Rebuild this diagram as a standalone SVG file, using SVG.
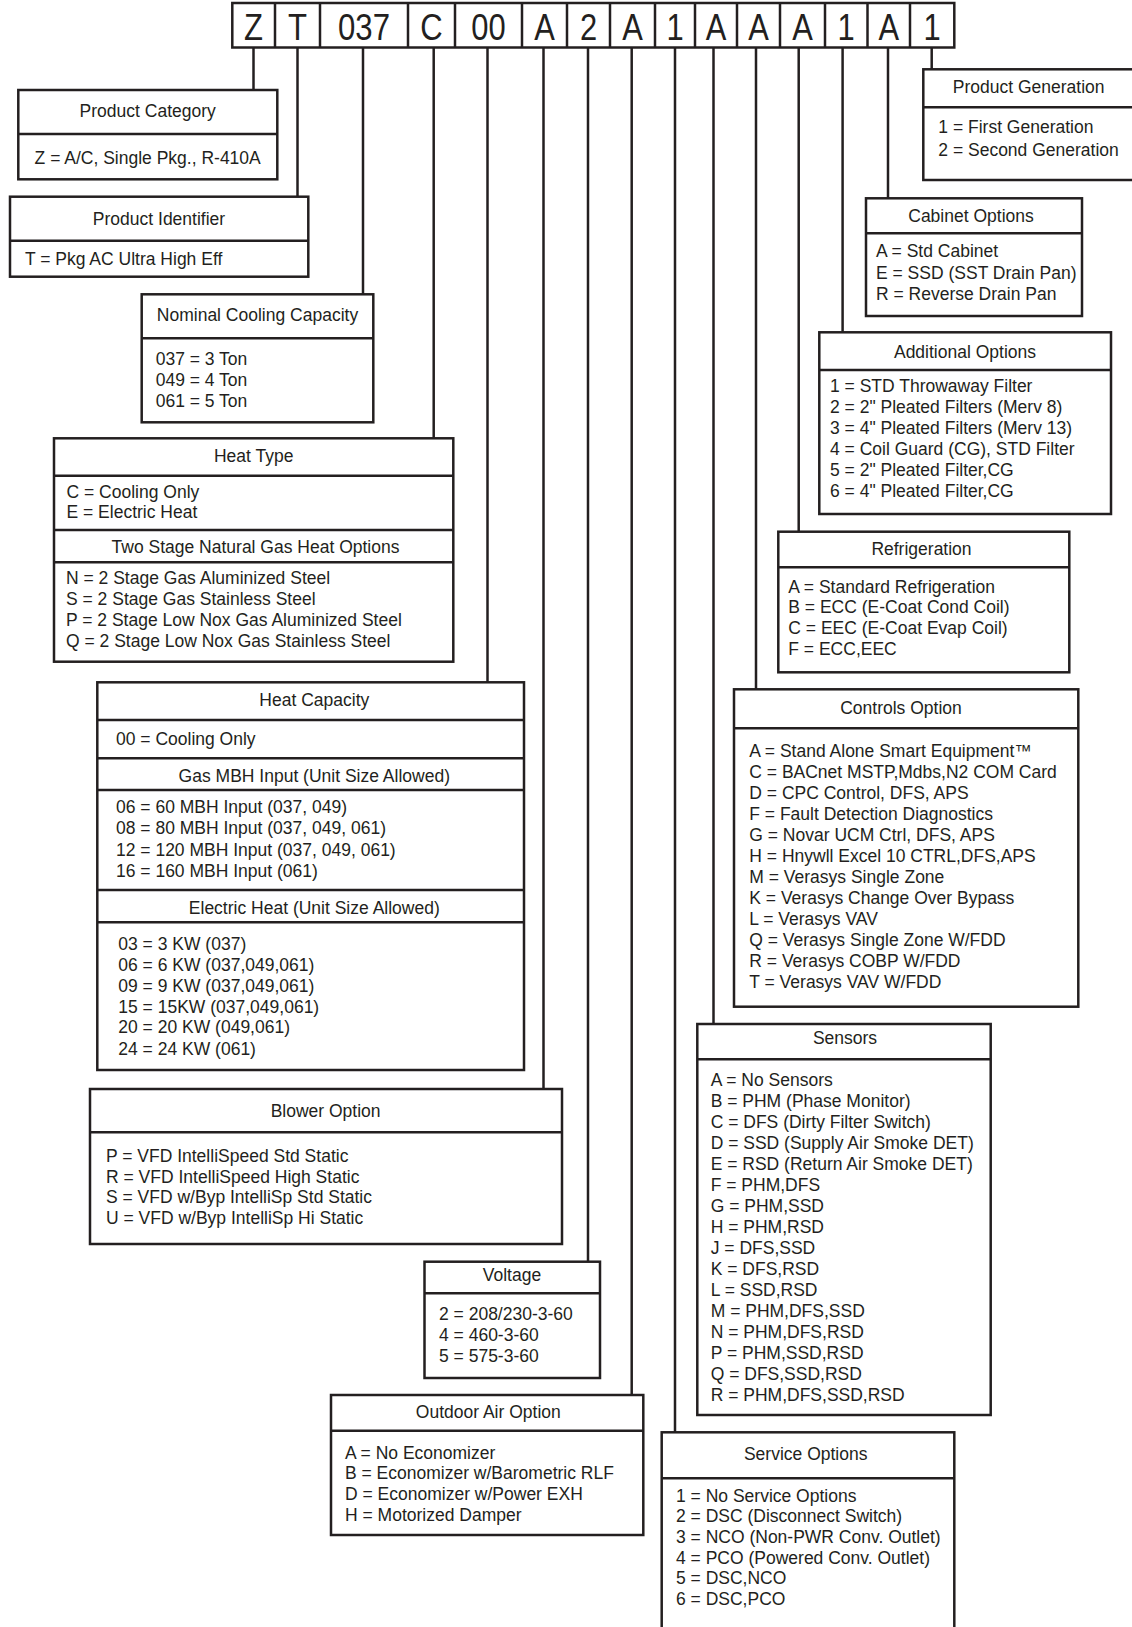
<svg xmlns="http://www.w3.org/2000/svg" width="1132" height="1627" viewBox="0 0 1132 1627">
<style>
.box{fill:#fff;stroke:#231f20;stroke-width:2.5}
.dv{stroke:#231f20;stroke-width:2.5}
.t{font-family:"Liberation Sans",Arial,sans-serif;font-size:17.5px;fill:#231f20}
.m{text-anchor:middle}
.code{font-family:"Liberation Sans",Arial,sans-serif;font-size:36px;fill:#231f20;text-anchor:middle}
.conn line{stroke:#231f20;stroke-width:2.5}
</style>
<rect width="1132" height="1627" fill="#fff"/>

<g id="connectors" class="conn">
<line x1="253.5" y1="47" x2="253.5" y2="90"/>
<line x1="297.5" y1="47" x2="297.5" y2="197"/>
<line x1="363" y1="47" x2="363" y2="294"/>
<line x1="433.7" y1="47" x2="433.7" y2="438"/>
<line x1="487.5" y1="47" x2="487.5" y2="682"/>
<line x1="543.5" y1="47" x2="543.5" y2="1089"/>
<line x1="588" y1="47" x2="588" y2="1262"/>
<line x1="631.7" y1="47" x2="631.7" y2="1395"/>
<line x1="675" y1="47" x2="675" y2="1432"/>
<line x1="713.5" y1="47" x2="713.5" y2="1024"/>
<line x1="756" y1="47" x2="756" y2="689"/>
<line x1="798.7" y1="47" x2="798.7" y2="532"/>
<line x1="842.6" y1="47" x2="842.6" y2="332"/>
<line x1="888" y1="47" x2="888" y2="198"/>
<line x1="931.7" y1="47" x2="931.7" y2="69"/>
</g>

<g id="model-code">
<rect class="box" x="232.3" y="3" width="722" height="44.5"/>
<line class="dv" x1="275" y1="3" x2="275" y2="47.5"/>
<line class="dv" x1="320" y1="3" x2="320" y2="47.5"/>
<line class="dv" x1="408" y1="3" x2="408" y2="47.5"/>
<line class="dv" x1="455" y1="3" x2="455" y2="47.5"/>
<line class="dv" x1="522" y1="3" x2="522" y2="47.5"/>
<line class="dv" x1="567" y1="3" x2="567" y2="47.5"/>
<line class="dv" x1="610" y1="3" x2="610" y2="47.5"/>
<line class="dv" x1="655" y1="3" x2="655" y2="47.5"/>
<line class="dv" x1="695" y1="3" x2="695" y2="47.5"/>
<line class="dv" x1="737" y1="3" x2="737" y2="47.5"/>
<line class="dv" x1="780" y1="3" x2="780" y2="47.5"/>
<line class="dv" x1="825" y1="3" x2="825" y2="47.5"/>
<line class="dv" x1="867.5" y1="3" x2="867.5" y2="47.5"/>
<line class="dv" x1="910" y1="3" x2="910" y2="47.5"/>
<text class="code" x="253.6" y="39.5" textLength="19" lengthAdjust="spacingAndGlyphs">Z</text>
<text class="code" x="297.5" y="39.5" textLength="19" lengthAdjust="spacingAndGlyphs">T</text>
<text class="code" x="364" y="39.5" textLength="52" lengthAdjust="spacingAndGlyphs">037</text>
<text class="code" x="431.5" y="39.5" textLength="22.4" lengthAdjust="spacingAndGlyphs">C</text>
<text class="code" x="488.5" y="39.5" textLength="34.4" lengthAdjust="spacingAndGlyphs">00</text>
<text class="code" x="544.5" y="39.5" textLength="20.6" lengthAdjust="spacingAndGlyphs">A</text>
<text class="code" x="588.5" y="39.5" textLength="17.2" lengthAdjust="spacingAndGlyphs">2</text>
<text class="code" x="632.5" y="39.5" textLength="20.6" lengthAdjust="spacingAndGlyphs">A</text>
<text class="code" x="675" y="39.5" textLength="17.2" lengthAdjust="spacingAndGlyphs">1</text>
<text class="code" x="716" y="39.5" textLength="20.6" lengthAdjust="spacingAndGlyphs">A</text>
<text class="code" x="758.5" y="39.5" textLength="20.6" lengthAdjust="spacingAndGlyphs">A</text>
<text class="code" x="802.5" y="39.5" textLength="20.6" lengthAdjust="spacingAndGlyphs">A</text>
<text class="code" x="846" y="39.5" textLength="17.2" lengthAdjust="spacingAndGlyphs">1</text>
<text class="code" x="888.7" y="39.5" textLength="20.6" lengthAdjust="spacingAndGlyphs">A</text>
<text class="code" x="932" y="39.5" textLength="17.2" lengthAdjust="spacingAndGlyphs">1</text>
</g>

<g id="product-category">
<rect class="box" x="18.3" y="90" width="259" height="89.3"/>
<line class="dv" x1="18.3" y1="134" x2="277.3" y2="134"/>
<text class="t m" x="147.7" y="116.7">Product Category</text>
<text class="t m" x="147.7" y="164">Z = A/C, Single Pkg., R-410A</text>
</g>

<g id="product-identifier">
<rect class="box" x="10" y="196.7" width="298.3" height="80"/>
<line class="dv" x1="10" y1="240.7" x2="308.3" y2="240.7"/>
<text class="t m" x="159" y="225">Product Identifier</text>
<text class="t" x="25" y="265">T = Pkg AC Ultra High Eff</text>
</g>

<g id="nominal-cooling-capacity">
<rect class="box" x="141.7" y="294.3" width="231.6" height="128"/>
<line class="dv" x1="141.7" y1="338.3" x2="373.3" y2="338.3"/>
<text class="t m" x="257.5" y="320.7">Nominal Cooling Capacity</text>
<text class="t" x="155.7" y="365">037 = 3 Ton</text>
<text class="t" x="155.7" y="386">049 = 4 Ton</text>
<text class="t" x="155.7" y="406.7">061 = 5 Ton</text>
</g>

<g id="heat-type">
<rect class="box" x="54" y="438.3" width="399.3" height="223.4"/>
<line class="dv" x1="54" y1="475.7" x2="453.3" y2="475.7"/>
<line class="dv" x1="54" y1="530" x2="453.3" y2="530"/>
<line class="dv" x1="54" y1="562.3" x2="453.3" y2="562.3"/>
<text class="t m" x="253.7" y="461.7">Heat Type</text>
<text class="t" x="66.5" y="497.7">C = Cooling Only</text>
<text class="t" x="66.5" y="517.7">E = Electric Heat</text>
<text class="t m" x="255.5" y="552.7">Two Stage Natural Gas Heat Options</text>
<text class="t" x="66" y="584">N = 2 Stage Gas Aluminized Steel</text>
<text class="t" x="66" y="605">S = 2 Stage Gas Stainless Steel</text>
<text class="t" x="66" y="626">P = 2 Stage Low Nox Gas Aluminized Steel</text>
<text class="t" x="66" y="647.3">Q = 2 Stage Low Nox Gas Stainless Steel</text>
</g>

<g id="heat-capacity">
<rect class="box" x="97.3" y="682.3" width="426.7" height="387.7"/>
<line class="dv" x1="97.3" y1="720" x2="524" y2="720"/>
<line class="dv" x1="97.3" y1="758.3" x2="524" y2="758.3"/>
<line class="dv" x1="97.3" y1="790" x2="524" y2="790"/>
<line class="dv" x1="97.3" y1="890" x2="524" y2="890"/>
<line class="dv" x1="97.3" y1="922.3" x2="524" y2="922.3"/>
<text class="t m" x="314.3" y="705.7">Heat Capacity</text>
<text class="t" x="116" y="745">00 = Cooling Only</text>
<text class="t m" x="314.3" y="781.7">Gas MBH Input (Unit Size Allowed)</text>
<text class="t" x="116" y="813.3">06 = 60 MBH Input (037, 049)</text>
<text class="t" x="116" y="834.3">08 = 80 MBH Input (037, 049, 061)</text>
<text class="t" x="116" y="855.7">12 = 120 MBH Input (037, 049, 061)</text>
<text class="t" x="116" y="876.7">16 = 160 MBH Input (061)</text>
<text class="t m" x="314.3" y="914">Electric Heat (Unit Size Allowed)</text>
<text class="t" x="118.3" y="950">03 = 3 KW (037)</text>
<text class="t" x="118.3" y="971">06 = 6 KW (037,049,061)</text>
<text class="t" x="118.3" y="991.7">09 = 9 KW (037,049,061)</text>
<text class="t" x="118.3" y="1012.7">15 = 15KW (037,049,061)</text>
<text class="t" x="118.3" y="1033.3">20 = 20 KW (049,061)</text>
<text class="t" x="118.3" y="1055">24 = 24 KW (061)</text>
</g>

<g id="blower-option">
<rect class="box" x="90" y="1089" width="472" height="155"/>
<line class="dv" x1="90" y1="1132.3" x2="562" y2="1132.3"/>
<text class="t m" x="325.6" y="1116.7">Blower Option</text>
<text class="t" x="106" y="1161.7">P = VFD IntelliSpeed Std Static</text>
<text class="t" x="106" y="1182.7">R = VFD IntelliSpeed High Static</text>
<text class="t" x="106" y="1203.3">S = VFD w/Byp IntelliSp Std Static</text>
<text class="t" x="106" y="1224.3">U = VFD w/Byp IntelliSp Hi Static</text>
</g>

<g id="voltage">
<rect class="box" x="424.5" y="1261.7" width="175.5" height="116.3"/>
<line class="dv" x1="424.5" y1="1293.3" x2="600" y2="1293.3"/>
<text class="t m" x="512" y="1280.7">Voltage</text>
<text class="t" x="439" y="1320">2 = 208/230-3-60</text>
<text class="t" x="439" y="1340.7">4 = 460-3-60</text>
<text class="t" x="439" y="1361.7">5 = 575-3-60</text>
</g>

<g id="outdoor-air-option">
<rect class="box" x="331" y="1395" width="312.3" height="140"/>
<line class="dv" x1="331" y1="1430.7" x2="643.3" y2="1430.7"/>
<text class="t m" x="488.3" y="1418.3">Outdoor Air Option</text>
<text class="t" x="345" y="1459">A = No Economizer</text>
<text class="t" x="345" y="1479.3">B = Economizer w/Barometric RLF</text>
<text class="t" x="345" y="1500">D = Economizer w/Power EXH</text>
<text class="t" x="345" y="1520.7">H = Motorized Damper</text>
</g>

<g id="service-options">
<rect class="box" x="661.7" y="1432.3" width="292.6" height="210"/>
<line class="dv" x1="661.7" y1="1478.3" x2="954.3" y2="1478.3"/>
<text class="t m" x="805.7" y="1460">Service Options</text>
<text class="t" x="676" y="1501.7">1 = No Service Options</text>
<text class="t" x="676" y="1521.7">2 = DSC (Disconnect Switch)</text>
<text class="t" x="676" y="1542.7">3 = NCO (Non-PWR Conv. Outlet)</text>
<text class="t" x="676" y="1564">4 = PCO (Powered Conv. Outlet)</text>
<text class="t" x="676" y="1584.3">5 = DSC,NCO</text>
<text class="t" x="676" y="1605">6 = DSC,PCO</text>
</g>

<g id="sensors">
<rect class="box" x="697.3" y="1024" width="293.4" height="391"/>
<line class="dv" x1="697.3" y1="1059.3" x2="990.7" y2="1059.3"/>
<text class="t m" x="845" y="1044.3">Sensors</text>
<text class="t" x="710.7" y="1086">A = No Sensors</text>
<text class="t" x="710.7" y="1107">B = PHM (Phase Monitor)</text>
<text class="t" x="710.7" y="1128">C = DFS (Dirty Filter Switch)</text>
<text class="t" x="710.7" y="1148.9">D = SSD (Supply Air Smoke DET)</text>
<text class="t" x="710.7" y="1169.9">E = RSD (Return Air Smoke DET)</text>
<text class="t" x="710.7" y="1190.9">F = PHM,DFS</text>
<text class="t" x="710.7" y="1211.9">G = PHM,SSD</text>
<text class="t" x="710.7" y="1232.9">H = PHM,RSD</text>
<text class="t" x="710.7" y="1253.8">J = DFS,SSD</text>
<text class="t" x="710.7" y="1274.8">K = DFS,RSD</text>
<text class="t" x="710.7" y="1295.8">L = SSD,RSD</text>
<text class="t" x="710.7" y="1316.8">M = PHM,DFS,SSD</text>
<text class="t" x="710.7" y="1337.8">N = PHM,DFS,RSD</text>
<text class="t" x="710.7" y="1358.7">P = PHM,SSD,RSD</text>
<text class="t" x="710.7" y="1379.7">Q = DFS,SSD,RSD</text>
<text class="t" x="710.7" y="1400.7">R = PHM,DFS,SSD,RSD</text>
</g>

<g id="controls-option">
<rect class="box" x="734" y="689.3" width="344.3" height="317.4"/>
<line class="dv" x1="734" y1="728.3" x2="1078.3" y2="728.3"/>
<text class="t m" x="901" y="714.3">Controls Option</text>
<text class="t" x="749.3" y="756.7">A = Stand Alone Smart Equipment™</text>
<text class="t" x="749.3" y="777.7">C = BACnet MSTP,Mdbs,N2 COM Card</text>
<text class="t" x="749.3" y="798.7">D = CPC Control, DFS, APS</text>
<text class="t" x="749.3" y="819.7">F = Fault Detection Diagnostics</text>
<text class="t" x="749.3" y="840.7">G = Novar UCM Ctrl, DFS, APS</text>
<text class="t" x="749.3" y="861.7">H = Hnywll Excel 10 CTRL,DFS,APS</text>
<text class="t" x="749.3" y="882.7">M = Verasys Single Zone</text>
<text class="t" x="749.3" y="903.7">K = Verasys Change Over Bypass</text>
<text class="t" x="749.3" y="924.7">L = Verasys VAV</text>
<text class="t" x="749.3" y="945.7">Q = Verasys Single Zone W/FDD</text>
<text class="t" x="749.3" y="966.7">R = Verasys COBP W/FDD</text>
<text class="t" x="749.3" y="987.7">T = Verasys VAV W/FDD</text>
</g>

<g id="refrigeration">
<rect class="box" x="778.3" y="531.7" width="291" height="140.6"/>
<line class="dv" x1="778.3" y1="567.3" x2="1069.3" y2="567.3"/>
<text class="t m" x="921.5" y="555">Refrigeration</text>
<text class="t" x="788.3" y="592.7">A = Standard Refrigeration</text>
<text class="t" x="788.3" y="613.3">B = ECC (E-Coat Cond Coil)</text>
<text class="t" x="788.3" y="634.3">C = EEC (E-Coat Evap Coil)</text>
<text class="t" x="788.3" y="655">F = ECC,EEC</text>
</g>

<g id="additional-options">
<rect class="box" x="819.3" y="332.3" width="291.7" height="181.7"/>
<line class="dv" x1="819.3" y1="370" x2="1111" y2="370"/>
<text class="t m" x="965" y="357.7">Additional Options</text>
<text class="t" x="830" y="391.7">1 = STD Throwaway Filter</text>
<text class="t" x="830" y="412.7">2 = 2" Pleated Filters (Merv 8)</text>
<text class="t" x="830" y="433.7">3 = 4" Pleated Filters (Merv 13)</text>
<text class="t" x="830" y="454.7">4 = Coil Guard (CG), STD Filter</text>
<text class="t" x="830" y="475.7">5 = 2" Pleated Filter,CG</text>
<text class="t" x="830" y="496.7">6 = 4" Pleated Filter,CG</text>
</g>

<g id="cabinet-options">
<rect class="box" x="866" y="198.3" width="216" height="117.7"/>
<line class="dv" x1="866" y1="233.3" x2="1082" y2="233.3"/>
<text class="t m" x="971" y="222">Cabinet Options</text>
<text class="t" x="876" y="257.3">A = Std Cabinet</text>
<text class="t" x="876" y="279">E = SSD (SST Drain Pan)</text>
<text class="t" x="876" y="300">R = Reverse Drain Pan</text>
</g>

<g id="product-generation">
<rect class="box" x="923.3" y="69.3" width="220" height="110.7"/>
<line class="dv" x1="923.3" y1="107.3" x2="1140" y2="107.3"/>
<text class="t m" x="1028.7" y="92.7">Product Generation</text>
<text class="t" x="938.3" y="133.3">1 = First Generation</text>
<text class="t" x="938.3" y="155.7">2 = Second Generation</text>
</g>
</svg>
